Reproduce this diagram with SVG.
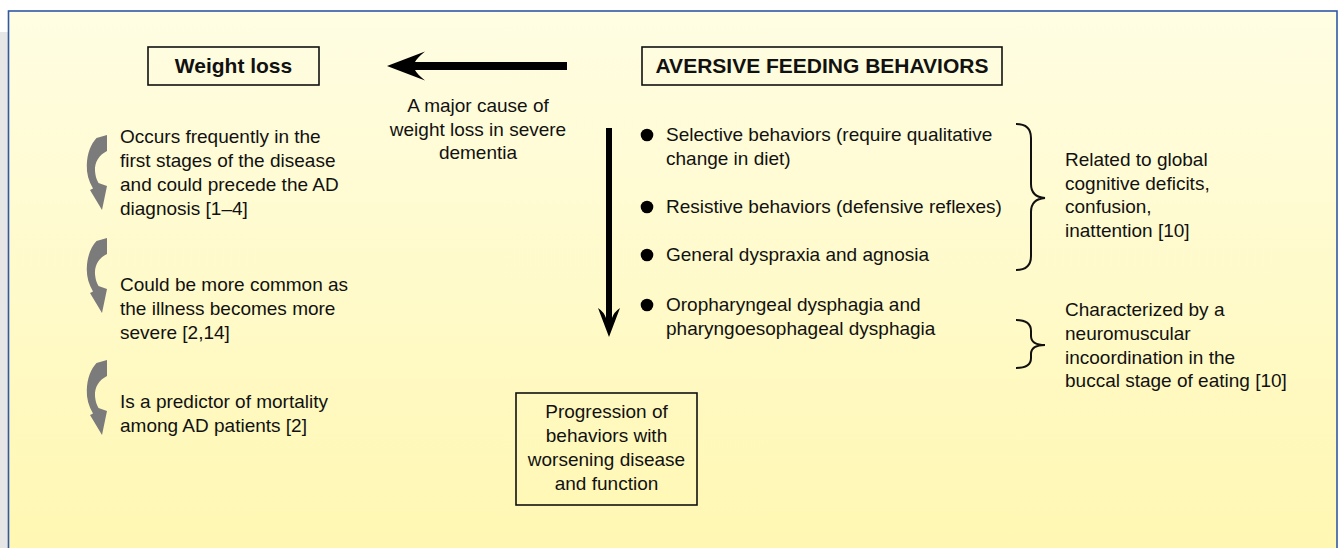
<svg xmlns="http://www.w3.org/2000/svg" width="1339" height="548" viewBox="0 0 1339 548">
<defs>
<linearGradient id="bg" x1="0" y1="0" x2="0" y2="1">
<stop offset="0" stop-color="#fffde3"/>
<stop offset="1" stop-color="#fff7b0"/>
</linearGradient>
<path id="curl" d="M96.5 138 L107 135 L107 151 C99 155 94.5 162 95 171 C95.5 177 97 180 98.5 183 L107 186 L102 210 L90 190 L93 188.5 C88.5 181 86.5 173 86.8 165 C87.2 153 91 144 96.5 138 Z"/>
<style>
text{font-family:"Liberation Sans",Arial,sans-serif;fill:#111;}
.t{font-size:19px;}
.h{font-size:21px;font-weight:bold;}
.c{text-anchor:middle;}
.box{fill:none;stroke:#111;stroke-width:1.6;}
.brace{fill:none;stroke:#111;stroke-width:2;}
.curl{fill:#7b7b7b;}
.blk{fill:#000;}
</style>
</defs>
<rect x="0" y="0" width="1339" height="548" fill="#ffffff"/>
<rect x="0" y="32" width="9" height="516" fill="#e6e6e6"/>
<rect x="8.5" y="11" width="1328.5" height="560" fill="url(#bg)" stroke="#3158a6" stroke-width="1.6"/>

<g id="weight-loss">
<rect class="box" x="148" y="47" width="171" height="38"/>
<text class="h c" x="233.5" y="73">Weight loss</text>
</g>

<g id="aversive">
<rect class="box" x="642" y="47" width="360" height="38"/>
<text class="h c" x="822" y="73">AVERSIVE FEEDING BEHAVIORS</text>
</g>

<g id="cause-label">
<text class="t c" x="478" y="112">A major cause of</text>
<text class="t c" x="478" y="136">weight loss in severe</text>
<text class="t c" x="478" y="159">dementia</text>
</g>

<g id="wl-items">
<use href="#curl" class="curl"/>
<text class="t" x="120" y="143">Occurs frequently in the</text>
<text class="t" x="120" y="167">first stages of the disease</text>
<text class="t" x="120" y="191">and could precede the AD</text>
<text class="t" x="120" y="215">diagnosis [1–4]</text>
<use href="#curl" class="curl" transform="translate(0,103)"/>
<text class="t" x="120" y="291">Could be more common as</text>
<text class="t" x="120" y="315">the illness becomes more</text>
<text class="t" x="120" y="339">severe [2,14]</text>
<use href="#curl" class="curl" transform="translate(0,225)"/>
<text class="t" x="120" y="408">Is a predictor of mortality</text>
<text class="t" x="120" y="432">among AD patients [2]</text>
</g>

<g id="behaviors">
<circle class="blk" cx="647" cy="135" r="6.3"/>
<text class="t" x="666" y="141">Selective behaviors (require qualitative</text>
<text class="t" x="666" y="165">change in diet)</text>
<circle class="blk" cx="647" cy="207" r="6.3"/>
<text class="t" x="666" y="213">Resistive behaviors (defensive reflexes)</text>
<circle class="blk" cx="647" cy="255" r="6.3"/>
<text class="t" x="666" y="261">General dyspraxia and agnosia</text>
<circle class="blk" cx="647" cy="305" r="6.3"/>
<text class="t" x="666" y="311">Oropharyngeal dysphagia and</text>
<text class="t" x="666" y="335">pharyngoesophageal dysphagia</text>
</g>

<g id="related">
<path class="brace" d="M1016 124 Q1031 124 1031 138 L1031 184 Q1031 197 1045 198 Q1031 199 1031 212 L1031 256 Q1031 270 1016 270"/>
<text class="t" x="1065" y="166">Related to global</text>
<text class="t" x="1065" y="190">cognitive deficits,</text>
<text class="t" x="1065" y="213">confusion,</text>
<text class="t" x="1065" y="237">inattention [10]</text>
</g>

<g id="characterized">
<path class="brace" d="M1016 320 Q1031 320 1031 331 L1031 336 Q1031 345 1045 345 Q1031 345 1031 354 L1031 358 Q1031 368 1016 368"/>
<text class="t" x="1065" y="316">Characterized by a</text>
<text class="t" x="1065" y="340">neuromuscular</text>
<text class="t" x="1065" y="364">incoordination in the</text>
<text class="t" x="1065" y="387">buccal stage of eating [10]</text>
</g>

<g id="progression">
<rect class="box" x="516" y="393" width="181" height="112"/>
<text class="t c" x="606.5" y="418">Progression of</text>
<text class="t c" x="606.5" y="442">behaviors with</text>
<text class="t c" x="606.5" y="466">worsening disease</text>
<text class="t c" x="606.5" y="490">and function</text>
</g>

<g id="connectors">
<path class="blk" d="M387 66 L425 51.5 Q417 58 415 62 L567 62 L567 70 L415 70 Q417 74 425 80.5 Z"/>
<path class="blk" d="M606 128 L612 128 L612 318 Q614 312 620 308 L609 337 L598 308 Q604 312 606 318 Z"/>
</g>
</svg>
